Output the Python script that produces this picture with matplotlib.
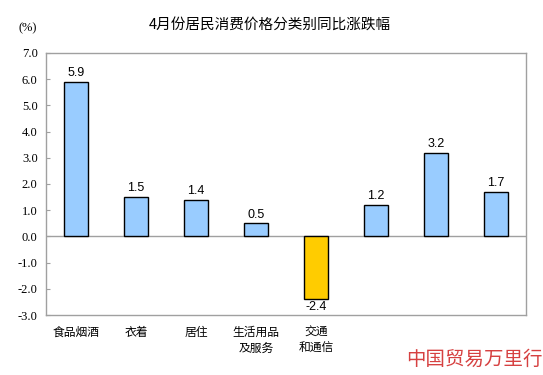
import matplotlib
matplotlib.use("Agg")
import matplotlib.pyplot as plt

# data
categories = ["食品烟酒", "衣着", "居住", "生活用品\n及服务", "交通\n和通信", "", "", ""]
values = [5.9, 1.5, 1.4, 0.5, -2.4, 1.2, 3.2, 1.7]
yticks = [-3.0, -2.0, -1.0, 0.0, 1.0, 2.0, 3.0, 4.0, 5.0, 6.0, 7.0]

plt.rcParams['font.family'] = ['Noto Sans CJK SC', 'DejaVu Sans']

fig = plt.figure(figsize=(5.43, 3.75), dpi=100)
ax = fig.add_axes([46/543, 1-315/375, 480/543, 262/375])

x = list(range(len(values)))
colors = ["#99CCFF" if v >= 0 else "#FFCC00" for v in values]
ax.bar(x, values, width=0.4, color=colors, edgecolor="black", linewidth=1, zorder=3)

ax.axhline(0, color="#A0A0A0", linewidth=1, zorder=2)

for xi, v in zip(x, values):
    if v >= 0:
        ax.text(xi, v + 0.1, f"{v:.1f}", ha="center", va="bottom", fontsize=9,
                family="Liberation Sans", color="black")
    else:
        ax.text(xi, v - 0.05, f"{v:.1f}", ha="center", va="top", fontsize=9,
                family="Liberation Sans", color="black")

ax.set_xlim(-0.5, len(values) - 0.5)
ax.set_ylim(-3, 7)
ax.set_yticks(yticks)
ax.set_yticklabels([f"{t:.1f}" for t in yticks], family="Liberation Serif", fontsize=9)
ax.tick_params(axis="y", direction="in", length=3, color="#A0A0A0", pad=6)
ax.set_xticks(x)
ax.set_xticklabels(categories, fontsize=8.5, linespacing=1.3, va="top")
ax.tick_params(axis="x", length=0, pad=8)

for s in ax.spines.values():
    s.set_color("#A0A0A0")
    s.set_linewidth(1)

fig.text(270/543, 1-25/375, "4月份居民消费价格分类别同比涨跌幅", ha="center", va="center", fontsize=10.5)
fig.text(28/543, 1-28/375, "(%)", ha="center", va="center", fontsize=9, family="Liberation Serif")

# watermark at the bottom right
fig.text(1.0, 1-359/375, "中国贸易万里行", ha="right", va="center", fontsize=14,
         color="#CC1111", alpha=0.8)

fig.savefig("out.png", dpi=100)
